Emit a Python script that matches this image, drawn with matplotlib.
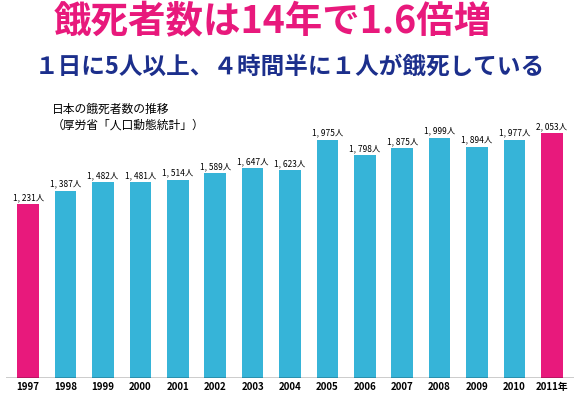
import matplotlib.pyplot as plt

plt.rcParams['font.family'] = ['Noto Sans CJK JP', 'DejaVu Sans']

years = ["1997", "1998", "1999", "2000", "2001", "2002", "2003", "2004",
         "2005", "2006", "2007", "2008", "2009", "2010", "2011年"]
deaths = [1231, 1387, 1482, 1481, 1514, 1589, 1647, 1623,
          1975, 1798, 1875, 1999, 1894, 1977, 2053]

pink = "#e8197c"
cyan = "#36b4d8"
colors = [pink] + [cyan] * 13 + [pink]

base = -780  # bars rise from the axis floor, not from zero
fig = plt.figure(figsize=(5.8, 4.03), dpi=100)
ax = fig.add_axes([0.01, 0.062, 0.98, 0.69])
x = range(len(deaths))
ax.bar(x, [d - base for d in deaths], bottom=base, width=0.58, color=colors)
for i, v in enumerate(deaths):
    ax.text(i, v + 25, f"{v:,}人".replace(",", ", "), ha="center", va="bottom",
            fontsize=6)
ax.set_ylim(base, 2435)
ax.set_xlim(-0.6, len(deaths) - 0.4)
ax.axhline(base, color="black", lw=1)
ax.set_xticks(list(x))
ax.set_xticklabels(years, fontsize=7, fontweight="bold")
ax.tick_params(axis="x", length=0, pad=3)
ax.set_yticks([])
for s in ax.spines.values():
    s.set_visible(False)

fig.text(0.47, 0.995, "餓死者数は14年で1.6倍増", ha="center", va="top",
         fontsize=27, fontweight="bold", color=pink)
fig.text(0.5, 0.865, "１日に5人以上、４時間半に１人が餓死している", ha="center",
         va="top", fontsize=17, fontweight="bold", color="#1c2f8c")
fig.text(0.09, 0.745, "日本の餓死者数の推移\n（厚労省「人口動態統計」）",
         ha="left", va="top", fontsize=8.5, linespacing=1.3)

fig.savefig("out.png", dpi=100)
